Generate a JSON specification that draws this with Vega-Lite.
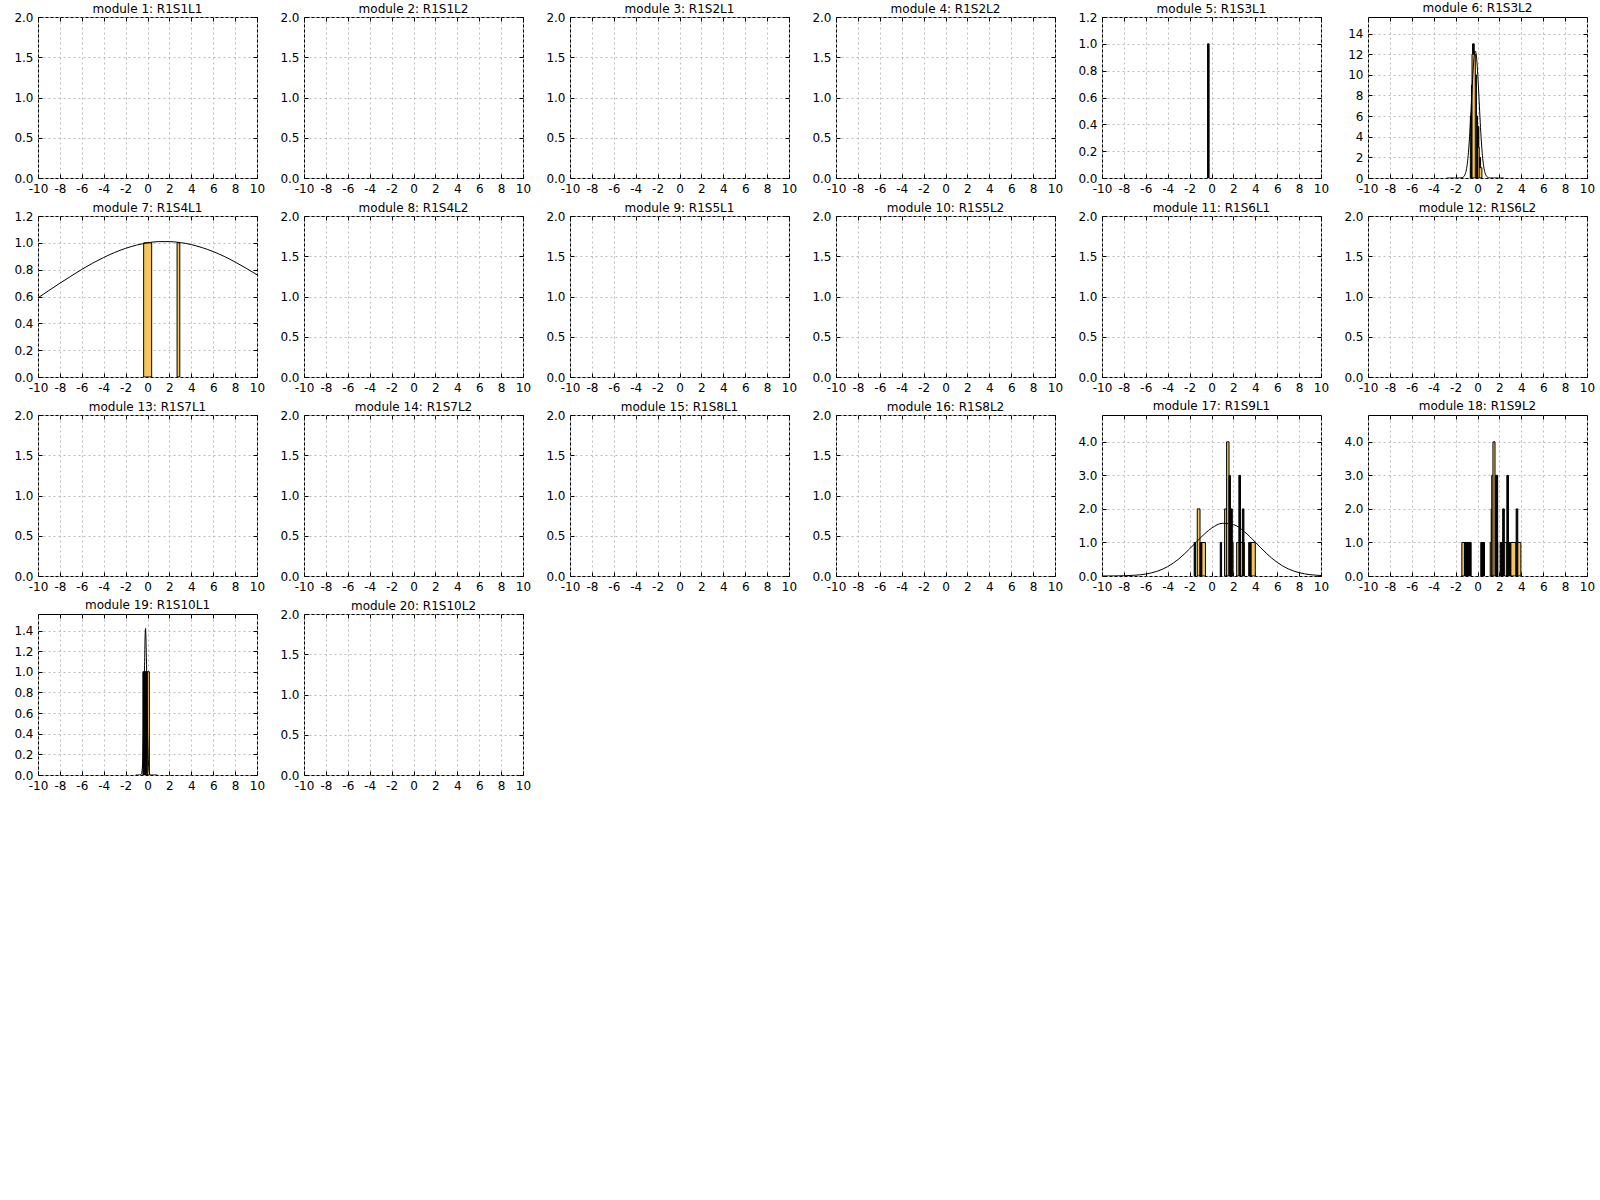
{
"$schema":"https://vega.github.io/schema/vega-lite/v6.json",
"background":"white",
"padding":{"left":13,"top":1,"right":5,"bottom":5},
"columns":6,
"spacing":{"row":38,"column":47},
"bounds":"flush",
"data":{"values":[
{"m":5,"t":"b","x":-0.36,"x2":-0.22,"y":1},
{"m":6,"t":"b","x":-0.45,"x2":-0.3,"y":13},
{"m":6,"t":"b","x":-0.2,"x2":-0.1,"y":10},
{"m":6,"t":"b","x":0.0,"x2":0.12,"y":5},
{"m":6,"t":"b","x":0.15,"x2":0.28,"y":2},
{"m":6,"t":"b","x":-0.65,"x2":0.4,"y":1},
{"m":6,"t":"b","x":-0.6,"x2":0.15,"y":3},
{"m":6,"t":"b","x":-0.65,"x2":0.0,"y":6},
{"m":6,"t":"b","x":-0.55,"x2":-0.1,"y":9},
{"m":6,"t":"b","x":-0.5,"x2":-0.2,"y":12},
{"m":6,"t":"c","x":-2.8,"y":0},{"m":6,"t":"c","x":-1.6,"y":0},{"m":6,"t":"c","x":-1.4,"y":0.03},{"m":6,"t":"c","x":-1.3,"y":0.09},{"m":6,"t":"c","x":-1.2,"y":0.21},{"m":6,"t":"c","x":-1.1,"y":0.45},{"m":6,"t":"c","x":-1.0,"y":0.9},{"m":6,"t":"c","x":-0.9,"y":1.66},{"m":6,"t":"c","x":-0.8,"y":2.83},{"m":6,"t":"c","x":-0.7,"y":4.43},{"m":6,"t":"c","x":-0.6,"y":6.4},{"m":6,"t":"c","x":-0.5,"y":8.52},{"m":6,"t":"c","x":-0.4,"y":10.45},{"m":6,"t":"c","x":-0.3,"y":11.81},{"m":6,"t":"c","x":-0.2,"y":12.3},{"m":6,"t":"c","x":-0.1,"y":11.81},{"m":6,"t":"c","x":0.0,"y":10.45},{"m":6,"t":"c","x":0.1,"y":8.52},{"m":6,"t":"c","x":0.2,"y":6.4},{"m":6,"t":"c","x":0.3,"y":4.43},{"m":6,"t":"c","x":0.4,"y":2.83},{"m":6,"t":"c","x":0.5,"y":1.66},{"m":6,"t":"c","x":0.6,"y":0.9},{"m":6,"t":"c","x":0.7,"y":0.45},{"m":6,"t":"c","x":0.8,"y":0.21},{"m":6,"t":"c","x":0.9,"y":0.09},{"m":6,"t":"c","x":1.0,"y":0.03},{"m":6,"t":"c","x":1.2,"y":0},{"m":6,"t":"c","x":2.4,"y":0},
{"m":7,"t":"b","x":-0.35,"x2":0.38,"y":1},
{"m":7,"t":"b","x":2.7,"x2":2.95,"y":1},
{"m":7,"t":"c","x":-10,"y":0.59},{"m":7,"t":"c","x":-9,"y":0.645},{"m":7,"t":"c","x":-8,"y":0.699},{"m":7,"t":"c","x":-7,"y":0.751},{"m":7,"t":"c","x":-6,"y":0.802},{"m":7,"t":"c","x":-5,"y":0.849},{"m":7,"t":"c","x":-4,"y":0.891},{"m":7,"t":"c","x":-3,"y":0.928},{"m":7,"t":"c","x":-2,"y":0.959},{"m":7,"t":"c","x":-1,"y":0.983},{"m":7,"t":"c","x":0,"y":1.0},{"m":7,"t":"c","x":1,"y":1.009},{"m":7,"t":"c","x":2,"y":1.009},{"m":7,"t":"c","x":3,"y":1.002},{"m":7,"t":"c","x":4,"y":0.987},{"m":7,"t":"c","x":5,"y":0.964},{"m":7,"t":"c","x":6,"y":0.935},{"m":7,"t":"c","x":7,"y":0.899},{"m":7,"t":"c","x":8,"y":0.857},{"m":7,"t":"c","x":9,"y":0.811},{"m":7,"t":"c","x":10,"y":0.762},
{"m":17,"t":"b","x":1.2,"x2":1.97,"y":1},
{"m":17,"t":"b","x":1.2,"x2":1.7,"y":2},
{"m":17,"t":"b","x":1.38,"x2":1.6,"y":4},
{"m":17,"t":"b","x":1.6,"x2":1.73,"y":3},
{"m":17,"t":"b","x":1.73,"x2":1.9,"y":2},
{"m":17,"t":"b","x":-1.58,"x2":-1.45,"y":1},
{"m":17,"t":"b","x":-1.3,"x2":-1.05,"y":2},
{"m":17,"t":"b","x":-1.05,"x2":-0.55,"y":1},
{"m":17,"t":"b","x":-1.0,"x2":-0.88,"y":1},
{"m":17,"t":"b","x":0.8,"x2":0.92,"y":1},
{"m":17,"t":"b","x":2.3,"x2":3.0,"y":1},
{"m":17,"t":"b","x":2.5,"x2":2.65,"y":3},
{"m":17,"t":"b","x":2.82,"x2":2.96,"y":2},
{"m":17,"t":"b","x":3.4,"x2":3.5,"y":1},
{"m":17,"t":"b","x":3.5,"x2":3.62,"y":1},
{"m":17,"t":"b","x":3.62,"x2":4.0,"y":1},
{"m":17,"t":"c","x":-10,"y":0.0006},{"m":17,"t":"c","x":-9,"y":0.0023},{"m":17,"t":"c","x":-8,"y":0.0077},{"m":17,"t":"c","x":-7,"y":0.023},{"m":17,"t":"c","x":-6,"y":0.059},{"m":17,"t":"c","x":-5,"y":0.137},{"m":17,"t":"c","x":-4,"y":0.28},{"m":17,"t":"c","x":-3,"y":0.506},{"m":17,"t":"c","x":-2,"y":0.808},{"m":17,"t":"c","x":-1,"y":1.141},{"m":17,"t":"c","x":0,"y":1.424},{"m":17,"t":"c","x":1,"y":1.571},{"m":17,"t":"c","x":2,"y":1.533},{"m":17,"t":"c","x":3,"y":1.322},{"m":17,"t":"c","x":4,"y":1.009},{"m":17,"t":"c","x":5,"y":0.68},{"m":17,"t":"c","x":6,"y":0.406},{"m":17,"t":"c","x":7,"y":0.214},{"m":17,"t":"c","x":8,"y":0.0997},{"m":17,"t":"c","x":9,"y":0.041},{"m":17,"t":"c","x":10,"y":0.015},
{"m":18,"t":"b","x":-1.43,"x2":-1.19,"y":1},
{"m":18,"t":"b","x":-1.19,"x2":-1.05,"y":1},
{"m":18,"t":"b","x":-1.05,"x2":-0.92,"y":1},
{"m":18,"t":"b","x":-0.92,"x2":-0.8,"y":1},
{"m":18,"t":"b","x":-0.8,"x2":-0.68,"y":1},
{"m":18,"t":"b","x":-0.68,"x2":-0.58,"y":1},
{"m":18,"t":"b","x":0.3,"x2":0.42,"y":1},
{"m":18,"t":"b","x":0.42,"x2":0.52,"y":1},
{"m":18,"t":"b","x":0.52,"x2":0.64,"y":1},
{"m":18,"t":"b","x":1.16,"x2":1.85,"y":1},
{"m":18,"t":"b","x":1.25,"x2":1.6,"y":2},
{"m":18,"t":"b","x":1.3,"x2":1.67,"y":3},
{"m":18,"t":"b","x":1.41,"x2":1.6,"y":4},
{"m":18,"t":"b","x":1.67,"x2":1.84,"y":3},
{"m":18,"t":"b","x":2.07,"x2":2.2,"y":1},
{"m":18,"t":"b","x":2.2,"x2":2.3,"y":1},
{"m":18,"t":"b","x":2.3,"x2":2.45,"y":2},
{"m":18,"t":"b","x":2.45,"x2":2.68,"y":1},
{"m":18,"t":"b","x":2.68,"x2":2.83,"y":3},
{"m":18,"t":"b","x":2.83,"x2":2.95,"y":1},
{"m":18,"t":"b","x":2.95,"x2":3.05,"y":1},
{"m":18,"t":"b","x":3.05,"x2":3.5,"y":1},
{"m":18,"t":"b","x":3.53,"x2":3.68,"y":2},
{"m":18,"t":"b","x":3.68,"x2":3.96,"y":1},
{"m":19,"t":"b","x":-0.42,"x2":-0.31,"y":1},
{"m":19,"t":"b","x":-0.31,"x2":-0.2,"y":1},
{"m":19,"t":"b","x":-0.2,"x2":-0.09,"y":1},
{"m":19,"t":"b","x":-0.09,"x2":0.0,"y":1},
{"m":19,"t":"b","x":-0.02,"x2":0.17,"y":1},
{"m":19,"t":"c","x":-1.1,"y":0},{"m":19,"t":"c","x":-0.7,"y":0},{"m":19,"t":"c","x":-0.6,"y":0.003},{"m":19,"t":"c","x":-0.5,"y":0.041},{"m":19,"t":"c","x":-0.4,"y":0.264},{"m":19,"t":"c","x":-0.3,"y":0.861},{"m":19,"t":"c","x":-0.2,"y":1.4},{"m":19,"t":"c","x":-0.18,"y":1.42},{"m":19,"t":"c","x":-0.1,"y":1.137},{"m":19,"t":"c","x":0.0,"y":0.461},{"m":19,"t":"c","x":0.1,"y":0.093},{"m":19,"t":"c","x":0.2,"y":0.01},{"m":19,"t":"c","x":0.3,"y":0},{"m":19,"t":"c","x":0.9,"y":0}
]},
"concat":[
{"title":{"text":"module 1: R1S1L1","offset":-4.5},"width":219,"height":161,"transform":[{"filter":"datum.m==1"}],"resolve":{"axis":{"x":"independent","y":"independent"}},"layer":[
{"transform":[{"filter":"datum.t=='b'"}],"mark":{"type":"rect","stroke":"black","strokeWidth":1,"clip":true},"encoding":{"fill":{"condition":{"test":"datum.x2 - datum.x < 0.18","value":"black"},"value":"#f7c659"},"x":{"field":"x","type":"quantitative","scale":{"domain":[-10,10],"nice":false},"axis":{"orient":"bottom","title":null,"grid":true}},"x2":{"field":"x2"},"y":{"field":"y","type":"quantitative","scale":{"domain":[0,2],"nice":false},"axis":{"orient":"left","title":null,"grid":true}},"y2":{"datum":0}}},
{"transform":[{"filter":"datum.t=='c'"}],"mark":{"type":"line","color":"black","strokeWidth":1,"clip":true,"interpolate":"monotone"},"encoding":{"x":{"field":"x","type":"quantitative","axis":{"orient":"top","title":null,"labels":false,"grid":false}},"y":{"field":"y","type":"quantitative","axis":{"orient":"right","title":null,"labels":false,"grid":false}}}}]},
{"title":{"text":"module 2: R1S1L2","offset":-4.5},"width":219,"height":161,"transform":[{"filter":"datum.m==2"}],"resolve":{"axis":{"x":"independent","y":"independent"}},"layer":[
{"transform":[{"filter":"datum.t=='b'"}],"mark":{"type":"rect","stroke":"black","strokeWidth":1,"clip":true},"encoding":{"fill":{"condition":{"test":"datum.x2 - datum.x < 0.18","value":"black"},"value":"#f7c659"},"x":{"field":"x","type":"quantitative","scale":{"domain":[-10,10],"nice":false},"axis":{"orient":"bottom","title":null,"grid":true}},"x2":{"field":"x2"},"y":{"field":"y","type":"quantitative","scale":{"domain":[0,2],"nice":false},"axis":{"orient":"left","title":null,"grid":true}},"y2":{"datum":0}}},
{"transform":[{"filter":"datum.t=='c'"}],"mark":{"type":"line","color":"black","strokeWidth":1,"clip":true,"interpolate":"monotone"},"encoding":{"x":{"field":"x","type":"quantitative","axis":{"orient":"top","title":null,"labels":false,"grid":false}},"y":{"field":"y","type":"quantitative","axis":{"orient":"right","title":null,"labels":false,"grid":false}}}}]},
{"title":{"text":"module 3: R1S2L1","offset":-4.5},"width":219,"height":161,"transform":[{"filter":"datum.m==3"}],"resolve":{"axis":{"x":"independent","y":"independent"}},"layer":[
{"transform":[{"filter":"datum.t=='b'"}],"mark":{"type":"rect","stroke":"black","strokeWidth":1,"clip":true},"encoding":{"fill":{"condition":{"test":"datum.x2 - datum.x < 0.18","value":"black"},"value":"#f7c659"},"x":{"field":"x","type":"quantitative","scale":{"domain":[-10,10],"nice":false},"axis":{"orient":"bottom","title":null,"grid":true}},"x2":{"field":"x2"},"y":{"field":"y","type":"quantitative","scale":{"domain":[0,2],"nice":false},"axis":{"orient":"left","title":null,"grid":true}},"y2":{"datum":0}}},
{"transform":[{"filter":"datum.t=='c'"}],"mark":{"type":"line","color":"black","strokeWidth":1,"clip":true,"interpolate":"monotone"},"encoding":{"x":{"field":"x","type":"quantitative","axis":{"orient":"top","title":null,"labels":false,"grid":false}},"y":{"field":"y","type":"quantitative","axis":{"orient":"right","title":null,"labels":false,"grid":false}}}}]},
{"title":{"text":"module 4: R1S2L2","offset":-4.5},"width":219,"height":161,"transform":[{"filter":"datum.m==4"}],"resolve":{"axis":{"x":"independent","y":"independent"}},"layer":[
{"transform":[{"filter":"datum.t=='b'"}],"mark":{"type":"rect","stroke":"black","strokeWidth":1,"clip":true},"encoding":{"fill":{"condition":{"test":"datum.x2 - datum.x < 0.18","value":"black"},"value":"#f7c659"},"x":{"field":"x","type":"quantitative","scale":{"domain":[-10,10],"nice":false},"axis":{"orient":"bottom","title":null,"grid":true}},"x2":{"field":"x2"},"y":{"field":"y","type":"quantitative","scale":{"domain":[0,2],"nice":false},"axis":{"orient":"left","title":null,"grid":true}},"y2":{"datum":0}}},
{"transform":[{"filter":"datum.t=='c'"}],"mark":{"type":"line","color":"black","strokeWidth":1,"clip":true,"interpolate":"monotone"},"encoding":{"x":{"field":"x","type":"quantitative","axis":{"orient":"top","title":null,"labels":false,"grid":false}},"y":{"field":"y","type":"quantitative","axis":{"orient":"right","title":null,"labels":false,"grid":false}}}}]},
{"title":{"text":"module 5: R1S3L1","offset":-4.5},"width":219,"height":161,"transform":[{"filter":"datum.m==5"}],"resolve":{"axis":{"x":"independent","y":"independent"}},"layer":[
{"transform":[{"filter":"datum.t=='b'"}],"mark":{"type":"rect","stroke":"black","strokeWidth":1,"clip":true},"encoding":{"fill":{"condition":{"test":"datum.x2 - datum.x < 0.18","value":"black"},"value":"#f7c659"},"x":{"field":"x","type":"quantitative","scale":{"domain":[-10,10],"nice":false},"axis":{"orient":"bottom","title":null,"grid":true}},"x2":{"field":"x2"},"y":{"field":"y","type":"quantitative","scale":{"domain":[0,1.2],"nice":false},"axis":{"orient":"left","title":null,"grid":true}},"y2":{"datum":0}}},
{"transform":[{"filter":"datum.t=='c'"}],"mark":{"type":"line","color":"black","strokeWidth":1,"clip":true,"interpolate":"monotone"},"encoding":{"x":{"field":"x","type":"quantitative","axis":{"orient":"top","title":null,"labels":false,"grid":false}},"y":{"field":"y","type":"quantitative","axis":{"orient":"right","title":null,"labels":false,"grid":false}}}}]},
{"title":{"text":"module 6: R1S3L2","offset":2},"width":219,"height":161,"transform":[{"filter":"datum.m==6"}],"resolve":{"axis":{"x":"independent","y":"independent"}},"layer":[
{"transform":[{"filter":"datum.t=='b'"}],"mark":{"type":"rect","stroke":"black","strokeWidth":1,"clip":true},"encoding":{"fill":{"condition":{"test":"datum.x2 - datum.x < 0.18","value":"black"},"value":"#f7c659"},"x":{"field":"x","type":"quantitative","scale":{"domain":[-10,10],"nice":false},"axis":{"orient":"bottom","title":null,"grid":true}},"x2":{"field":"x2"},"y":{"field":"y","type":"quantitative","scale":{"domain":[0,15.6],"nice":false},"axis":{"orient":"left","title":null,"grid":true,"format":"d"}},"y2":{"datum":0}}},
{"transform":[{"filter":"datum.t=='c'"}],"mark":{"type":"line","color":"black","strokeWidth":1,"clip":true,"interpolate":"monotone"},"encoding":{"x":{"field":"x","type":"quantitative","axis":{"orient":"top","title":null,"labels":false,"grid":false}},"y":{"field":"y","type":"quantitative","axis":{"orient":"right","title":null,"labels":false,"grid":false}}}}]},
{"title":{"text":"module 7: R1S4L1","offset":-4.5},"width":219,"height":161,"transform":[{"filter":"datum.m==7"}],"resolve":{"axis":{"x":"independent","y":"independent"}},"layer":[
{"transform":[{"filter":"datum.t=='b'"}],"mark":{"type":"rect","stroke":"black","strokeWidth":1,"clip":true},"encoding":{"fill":{"condition":{"test":"datum.x2 - datum.x < 0.18","value":"black"},"value":"#f7c659"},"x":{"field":"x","type":"quantitative","scale":{"domain":[-10,10],"nice":false},"axis":{"orient":"bottom","title":null,"grid":true}},"x2":{"field":"x2"},"y":{"field":"y","type":"quantitative","scale":{"domain":[0,1.2],"nice":false},"axis":{"orient":"left","title":null,"grid":true}},"y2":{"datum":0}}},
{"transform":[{"filter":"datum.t=='c'"}],"mark":{"type":"line","color":"black","strokeWidth":1,"clip":true,"interpolate":"monotone"},"encoding":{"x":{"field":"x","type":"quantitative","axis":{"orient":"top","title":null,"labels":false,"grid":false}},"y":{"field":"y","type":"quantitative","axis":{"orient":"right","title":null,"labels":false,"grid":false}}}}]},
{"title":{"text":"module 8: R1S4L2","offset":-4.5},"width":219,"height":161,"transform":[{"filter":"datum.m==8"}],"resolve":{"axis":{"x":"independent","y":"independent"}},"layer":[
{"transform":[{"filter":"datum.t=='b'"}],"mark":{"type":"rect","stroke":"black","strokeWidth":1,"clip":true},"encoding":{"fill":{"condition":{"test":"datum.x2 - datum.x < 0.18","value":"black"},"value":"#f7c659"},"x":{"field":"x","type":"quantitative","scale":{"domain":[-10,10],"nice":false},"axis":{"orient":"bottom","title":null,"grid":true}},"x2":{"field":"x2"},"y":{"field":"y","type":"quantitative","scale":{"domain":[0,2],"nice":false},"axis":{"orient":"left","title":null,"grid":true}},"y2":{"datum":0}}},
{"transform":[{"filter":"datum.t=='c'"}],"mark":{"type":"line","color":"black","strokeWidth":1,"clip":true,"interpolate":"monotone"},"encoding":{"x":{"field":"x","type":"quantitative","axis":{"orient":"top","title":null,"labels":false,"grid":false}},"y":{"field":"y","type":"quantitative","axis":{"orient":"right","title":null,"labels":false,"grid":false}}}}]},
{"title":{"text":"module 9: R1S5L1","offset":-4.5},"width":219,"height":161,"transform":[{"filter":"datum.m==9"}],"resolve":{"axis":{"x":"independent","y":"independent"}},"layer":[
{"transform":[{"filter":"datum.t=='b'"}],"mark":{"type":"rect","stroke":"black","strokeWidth":1,"clip":true},"encoding":{"fill":{"condition":{"test":"datum.x2 - datum.x < 0.18","value":"black"},"value":"#f7c659"},"x":{"field":"x","type":"quantitative","scale":{"domain":[-10,10],"nice":false},"axis":{"orient":"bottom","title":null,"grid":true}},"x2":{"field":"x2"},"y":{"field":"y","type":"quantitative","scale":{"domain":[0,2],"nice":false},"axis":{"orient":"left","title":null,"grid":true}},"y2":{"datum":0}}},
{"transform":[{"filter":"datum.t=='c'"}],"mark":{"type":"line","color":"black","strokeWidth":1,"clip":true,"interpolate":"monotone"},"encoding":{"x":{"field":"x","type":"quantitative","axis":{"orient":"top","title":null,"labels":false,"grid":false}},"y":{"field":"y","type":"quantitative","axis":{"orient":"right","title":null,"labels":false,"grid":false}}}}]},
{"title":{"text":"module 10: R1S5L2","offset":-4.5},"width":219,"height":161,"transform":[{"filter":"datum.m==10"}],"resolve":{"axis":{"x":"independent","y":"independent"}},"layer":[
{"transform":[{"filter":"datum.t=='b'"}],"mark":{"type":"rect","stroke":"black","strokeWidth":1,"clip":true},"encoding":{"fill":{"condition":{"test":"datum.x2 - datum.x < 0.18","value":"black"},"value":"#f7c659"},"x":{"field":"x","type":"quantitative","scale":{"domain":[-10,10],"nice":false},"axis":{"orient":"bottom","title":null,"grid":true}},"x2":{"field":"x2"},"y":{"field":"y","type":"quantitative","scale":{"domain":[0,2],"nice":false},"axis":{"orient":"left","title":null,"grid":true}},"y2":{"datum":0}}},
{"transform":[{"filter":"datum.t=='c'"}],"mark":{"type":"line","color":"black","strokeWidth":1,"clip":true,"interpolate":"monotone"},"encoding":{"x":{"field":"x","type":"quantitative","axis":{"orient":"top","title":null,"labels":false,"grid":false}},"y":{"field":"y","type":"quantitative","axis":{"orient":"right","title":null,"labels":false,"grid":false}}}}]},
{"title":{"text":"module 11: R1S6L1","offset":-4.5},"width":219,"height":161,"transform":[{"filter":"datum.m==11"}],"resolve":{"axis":{"x":"independent","y":"independent"}},"layer":[
{"transform":[{"filter":"datum.t=='b'"}],"mark":{"type":"rect","stroke":"black","strokeWidth":1,"clip":true},"encoding":{"fill":{"condition":{"test":"datum.x2 - datum.x < 0.18","value":"black"},"value":"#f7c659"},"x":{"field":"x","type":"quantitative","scale":{"domain":[-10,10],"nice":false},"axis":{"orient":"bottom","title":null,"grid":true}},"x2":{"field":"x2"},"y":{"field":"y","type":"quantitative","scale":{"domain":[0,2],"nice":false},"axis":{"orient":"left","title":null,"grid":true}},"y2":{"datum":0}}},
{"transform":[{"filter":"datum.t=='c'"}],"mark":{"type":"line","color":"black","strokeWidth":1,"clip":true,"interpolate":"monotone"},"encoding":{"x":{"field":"x","type":"quantitative","axis":{"orient":"top","title":null,"labels":false,"grid":false}},"y":{"field":"y","type":"quantitative","axis":{"orient":"right","title":null,"labels":false,"grid":false}}}}]},
{"title":{"text":"module 12: R1S6L2","offset":-4.5},"width":219,"height":161,"transform":[{"filter":"datum.m==12"}],"resolve":{"axis":{"x":"independent","y":"independent"}},"layer":[
{"transform":[{"filter":"datum.t=='b'"}],"mark":{"type":"rect","stroke":"black","strokeWidth":1,"clip":true},"encoding":{"fill":{"condition":{"test":"datum.x2 - datum.x < 0.18","value":"black"},"value":"#f7c659"},"x":{"field":"x","type":"quantitative","scale":{"domain":[-10,10],"nice":false},"axis":{"orient":"bottom","title":null,"grid":true}},"x2":{"field":"x2"},"y":{"field":"y","type":"quantitative","scale":{"domain":[0,2],"nice":false},"axis":{"orient":"left","title":null,"grid":true}},"y2":{"datum":0}}},
{"transform":[{"filter":"datum.t=='c'"}],"mark":{"type":"line","color":"black","strokeWidth":1,"clip":true,"interpolate":"monotone"},"encoding":{"x":{"field":"x","type":"quantitative","axis":{"orient":"top","title":null,"labels":false,"grid":false}},"y":{"field":"y","type":"quantitative","axis":{"orient":"right","title":null,"labels":false,"grid":false}}}}]},
{"title":{"text":"module 13: R1S7L1","offset":-4.5},"width":219,"height":161,"transform":[{"filter":"datum.m==13"}],"resolve":{"axis":{"x":"independent","y":"independent"}},"layer":[
{"transform":[{"filter":"datum.t=='b'"}],"mark":{"type":"rect","stroke":"black","strokeWidth":1,"clip":true},"encoding":{"fill":{"condition":{"test":"datum.x2 - datum.x < 0.18","value":"black"},"value":"#f7c659"},"x":{"field":"x","type":"quantitative","scale":{"domain":[-10,10],"nice":false},"axis":{"orient":"bottom","title":null,"grid":true}},"x2":{"field":"x2"},"y":{"field":"y","type":"quantitative","scale":{"domain":[0,2],"nice":false},"axis":{"orient":"left","title":null,"grid":true}},"y2":{"datum":0}}},
{"transform":[{"filter":"datum.t=='c'"}],"mark":{"type":"line","color":"black","strokeWidth":1,"clip":true,"interpolate":"monotone"},"encoding":{"x":{"field":"x","type":"quantitative","axis":{"orient":"top","title":null,"labels":false,"grid":false}},"y":{"field":"y","type":"quantitative","axis":{"orient":"right","title":null,"labels":false,"grid":false}}}}]},
{"title":{"text":"module 14: R1S7L2","offset":-4.5},"width":219,"height":161,"transform":[{"filter":"datum.m==14"}],"resolve":{"axis":{"x":"independent","y":"independent"}},"layer":[
{"transform":[{"filter":"datum.t=='b'"}],"mark":{"type":"rect","stroke":"black","strokeWidth":1,"clip":true},"encoding":{"fill":{"condition":{"test":"datum.x2 - datum.x < 0.18","value":"black"},"value":"#f7c659"},"x":{"field":"x","type":"quantitative","scale":{"domain":[-10,10],"nice":false},"axis":{"orient":"bottom","title":null,"grid":true}},"x2":{"field":"x2"},"y":{"field":"y","type":"quantitative","scale":{"domain":[0,2],"nice":false},"axis":{"orient":"left","title":null,"grid":true}},"y2":{"datum":0}}},
{"transform":[{"filter":"datum.t=='c'"}],"mark":{"type":"line","color":"black","strokeWidth":1,"clip":true,"interpolate":"monotone"},"encoding":{"x":{"field":"x","type":"quantitative","axis":{"orient":"top","title":null,"labels":false,"grid":false}},"y":{"field":"y","type":"quantitative","axis":{"orient":"right","title":null,"labels":false,"grid":false}}}}]},
{"title":{"text":"module 15: R1S8L1","offset":-4.5},"width":219,"height":161,"transform":[{"filter":"datum.m==15"}],"resolve":{"axis":{"x":"independent","y":"independent"}},"layer":[
{"transform":[{"filter":"datum.t=='b'"}],"mark":{"type":"rect","stroke":"black","strokeWidth":1,"clip":true},"encoding":{"fill":{"condition":{"test":"datum.x2 - datum.x < 0.18","value":"black"},"value":"#f7c659"},"x":{"field":"x","type":"quantitative","scale":{"domain":[-10,10],"nice":false},"axis":{"orient":"bottom","title":null,"grid":true}},"x2":{"field":"x2"},"y":{"field":"y","type":"quantitative","scale":{"domain":[0,2],"nice":false},"axis":{"orient":"left","title":null,"grid":true}},"y2":{"datum":0}}},
{"transform":[{"filter":"datum.t=='c'"}],"mark":{"type":"line","color":"black","strokeWidth":1,"clip":true,"interpolate":"monotone"},"encoding":{"x":{"field":"x","type":"quantitative","axis":{"orient":"top","title":null,"labels":false,"grid":false}},"y":{"field":"y","type":"quantitative","axis":{"orient":"right","title":null,"labels":false,"grid":false}}}}]},
{"title":{"text":"module 16: R1S8L2","offset":-4.5},"width":219,"height":161,"transform":[{"filter":"datum.m==16"}],"resolve":{"axis":{"x":"independent","y":"independent"}},"layer":[
{"transform":[{"filter":"datum.t=='b'"}],"mark":{"type":"rect","stroke":"black","strokeWidth":1,"clip":true},"encoding":{"fill":{"condition":{"test":"datum.x2 - datum.x < 0.18","value":"black"},"value":"#f7c659"},"x":{"field":"x","type":"quantitative","scale":{"domain":[-10,10],"nice":false},"axis":{"orient":"bottom","title":null,"grid":true}},"x2":{"field":"x2"},"y":{"field":"y","type":"quantitative","scale":{"domain":[0,2],"nice":false},"axis":{"orient":"left","title":null,"grid":true}},"y2":{"datum":0}}},
{"transform":[{"filter":"datum.t=='c'"}],"mark":{"type":"line","color":"black","strokeWidth":1,"clip":true,"interpolate":"monotone"},"encoding":{"x":{"field":"x","type":"quantitative","axis":{"orient":"top","title":null,"labels":false,"grid":false}},"y":{"field":"y","type":"quantitative","axis":{"orient":"right","title":null,"labels":false,"grid":false}}}}]},
{"title":{"text":"module 17: R1S9L1","offset":1.5},"width":219,"height":161,"transform":[{"filter":"datum.m==17"}],"resolve":{"axis":{"x":"independent","y":"independent"}},"layer":[
{"transform":[{"filter":"datum.t=='b'"}],"mark":{"type":"rect","stroke":"black","strokeWidth":1,"clip":true},"encoding":{"fill":{"condition":{"test":"datum.x2 - datum.x < 0.18","value":"black"},"value":"#f7c659"},"x":{"field":"x","type":"quantitative","scale":{"domain":[-10,10],"nice":false},"axis":{"orient":"bottom","title":null,"grid":true}},"x2":{"field":"x2"},"y":{"field":"y","type":"quantitative","scale":{"domain":[0,4.8],"nice":false},"axis":{"orient":"left","title":null,"grid":true}},"y2":{"datum":0}}},
{"transform":[{"filter":"datum.t=='c'"}],"mark":{"type":"line","color":"black","strokeWidth":1,"clip":true,"interpolate":"monotone"},"encoding":{"x":{"field":"x","type":"quantitative","axis":{"orient":"top","title":null,"labels":false,"grid":false}},"y":{"field":"y","type":"quantitative","axis":{"orient":"right","title":null,"labels":false,"grid":false}}}}]},
{"title":{"text":"module 18: R1S9L2","offset":1.5},"width":219,"height":161,"transform":[{"filter":"datum.m==18"}],"resolve":{"axis":{"x":"independent","y":"independent"}},"layer":[
{"transform":[{"filter":"datum.t=='b'"}],"mark":{"type":"rect","stroke":"black","strokeWidth":1,"clip":true},"encoding":{"fill":{"condition":{"test":"datum.x2 - datum.x < 0.18","value":"black"},"value":"#f7c659"},"x":{"field":"x","type":"quantitative","scale":{"domain":[-10,10],"nice":false},"axis":{"orient":"bottom","title":null,"grid":true}},"x2":{"field":"x2"},"y":{"field":"y","type":"quantitative","scale":{"domain":[0,4.8],"nice":false},"axis":{"orient":"left","title":null,"grid":true}},"y2":{"datum":0}}},
{"transform":[{"filter":"datum.t=='c'"}],"mark":{"type":"line","color":"black","strokeWidth":1,"clip":true,"interpolate":"monotone"},"encoding":{"x":{"field":"x","type":"quantitative","axis":{"orient":"top","title":null,"labels":false,"grid":false}},"y":{"field":"y","type":"quantitative","axis":{"orient":"right","title":null,"labels":false,"grid":false}}}}]},
{"title":{"text":"module 19: R1S10L1","offset":1.5},"width":219,"height":161,"transform":[{"filter":"datum.m==19"}],"resolve":{"axis":{"x":"independent","y":"independent"}},"layer":[
{"transform":[{"filter":"datum.t=='b'"}],"mark":{"type":"rect","stroke":"black","strokeWidth":1,"clip":true},"encoding":{"fill":{"condition":{"test":"datum.x2 - datum.x < 0.18","value":"black"},"value":"#f7c659"},"x":{"field":"x","type":"quantitative","scale":{"domain":[-10,10],"nice":false},"axis":{"orient":"bottom","title":null,"grid":true}},"x2":{"field":"x2"},"y":{"field":"y","type":"quantitative","scale":{"domain":[0,1.56],"nice":false},"axis":{"orient":"left","title":null,"grid":true}},"y2":{"datum":0}}},
{"transform":[{"filter":"datum.t=='c'"}],"mark":{"type":"line","color":"black","strokeWidth":1,"clip":true,"interpolate":"monotone"},"encoding":{"x":{"field":"x","type":"quantitative","axis":{"orient":"top","title":null,"labels":false,"grid":false}},"y":{"field":"y","type":"quantitative","axis":{"orient":"right","title":null,"labels":false,"grid":false}}}}]},
{"title":{"text":"module 20: R1S10L2","offset":-4.5},"width":219,"height":161,"transform":[{"filter":"datum.m==20"}],"resolve":{"axis":{"x":"independent","y":"independent"}},"layer":[
{"transform":[{"filter":"datum.t=='b'"}],"mark":{"type":"rect","stroke":"black","strokeWidth":1,"clip":true},"encoding":{"fill":{"condition":{"test":"datum.x2 - datum.x < 0.18","value":"black"},"value":"#f7c659"},"x":{"field":"x","type":"quantitative","scale":{"domain":[-10,10],"nice":false},"axis":{"orient":"bottom","title":null,"grid":true}},"x2":{"field":"x2"},"y":{"field":"y","type":"quantitative","scale":{"domain":[0,2],"nice":false},"axis":{"orient":"left","title":null,"grid":true}},"y2":{"datum":0}}},
{"transform":[{"filter":"datum.t=='c'"}],"mark":{"type":"line","color":"black","strokeWidth":1,"clip":true,"interpolate":"monotone"},"encoding":{"x":{"field":"x","type":"quantitative","axis":{"orient":"top","title":null,"labels":false,"grid":false}},"y":{"field":"y","type":"quantitative","axis":{"orient":"right","title":null,"labels":false,"grid":false}}}}]}
],
"config":{
"font":"DejaVu Sans",
"view":{"stroke":"black","strokeWidth":1},
"axis":{"domain":false,"tickColor":"black","tickSize":-4,"tickWidth":1,"labelFont":"DejaVu Sans","labelFontSize":12,"labelColor":"black","labelPadding":9,"gridColor":"#bdbdbd","gridDash":[2,3],"gridWidth":1,"zindex":1,"labelFlush":false,"labelOverlap":false,"labelBound":false},
"axisX":{"tickCount":10},
"axisY":{"tickCount":5,"format":".1f"},
"axisBottom":{"labelExpr":"'' + datum.value"},
"title":{"fontSize":12,"fontWeight":"normal","font":"DejaVu Sans","color":"black","anchor":"middle"}
}
}
